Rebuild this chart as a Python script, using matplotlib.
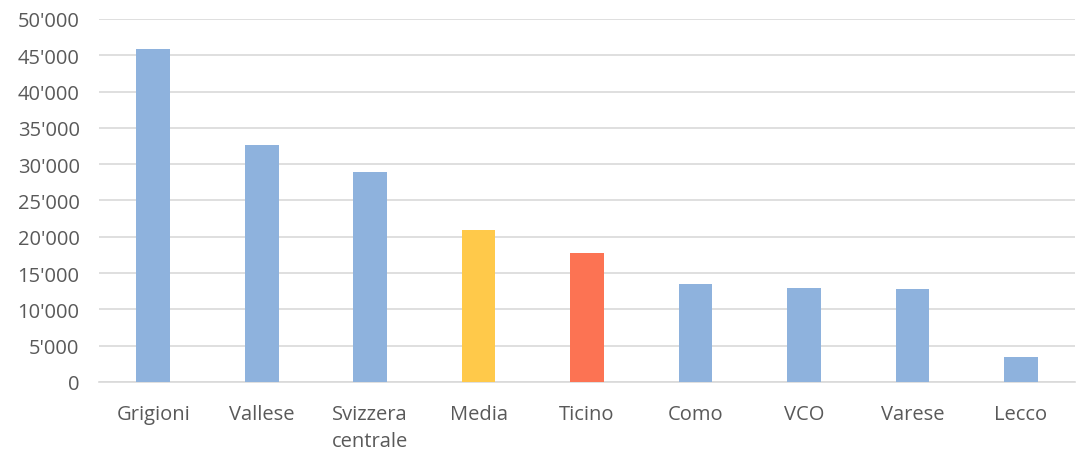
#!/usr/bin/env python3

import matplotlib
matplotlib.use('Agg')
import matplotlib.pyplot as plt
from matplotlib.ticker import FuncFormatter, MultipleLocator

categories = ['Grigioni', 'Vallese', 'Svizzera\ncentrale', 'Media', 'Ticino',
              'Como', 'VCO', 'Varese', 'Lecco']
values = [45870, 32640, 28900, 20940, 17770, 13450, 12950, 12800, 3440]
colors = ['#8EB2DD', '#8EB2DD', '#8EB2DD', '#FFC94A', '#FC7353',
          '#8EB2DD', '#8EB2DD', '#8EB2DD', '#8EB2DD']

plt.rcParams['font.family'] = ['Open Sans', 'DejaVu Sans']

fig = plt.figure(figsize=(10.79, 4.52), dpi=100)
ax = fig.add_axes([0.0918, 0.1527, 0.9045, 0.8031])

x = range(len(categories))
ax.bar(x, values, width=0.31, color=colors, zorder=3)

ax.set_xlim(-0.5, len(categories) - 0.5)
ax.set_ylim(0, 50000)
ax.yaxis.set_major_locator(MultipleLocator(5000))
ax.yaxis.set_major_formatter(FuncFormatter(lambda v, p: f"{int(v):,}".replace(',', "'")))
ax.grid(axis='y', color='#D9D9D9', linewidth=1.2, zorder=0)

for s in ['top', 'right', 'left']:
    ax.spines[s].set_visible(False)
ax.spines['bottom'].set_color('#D9D9D9')
ax.spines['bottom'].set_linewidth(1.2)

ax.set_xticks(list(x))
ax.set_xticklabels(categories, linespacing=1.45)
ax.tick_params(axis='both', length=0, labelsize=14.5, colors='#595959')
ax.tick_params(axis='y', pad=14)
ax.tick_params(axis='x', pad=16)

fig.savefig('out.png', dpi=100)
